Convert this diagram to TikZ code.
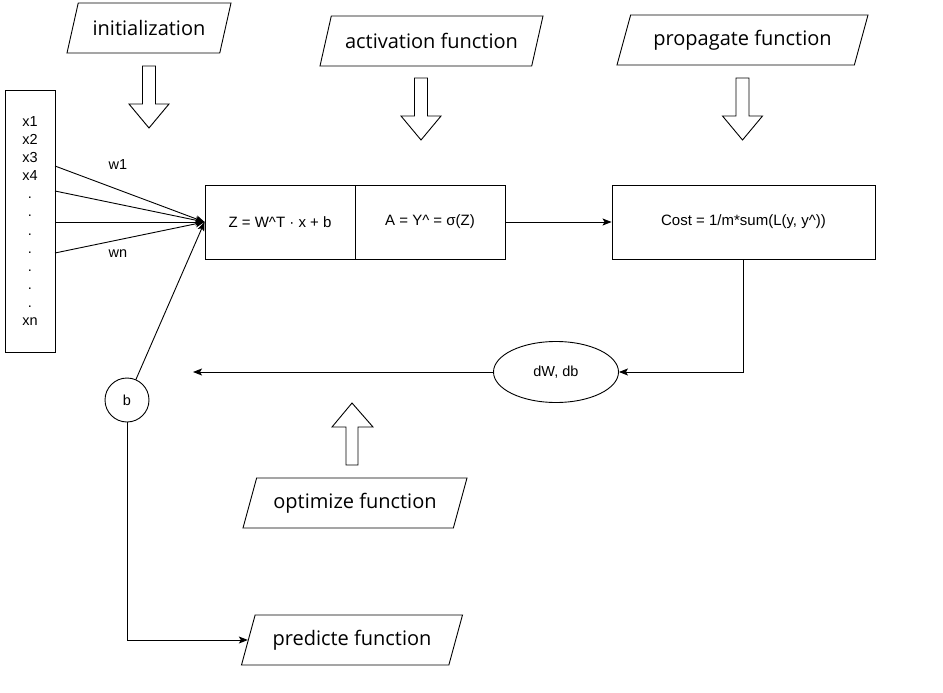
\documentclass[tikz,border=0pt]{standalone}
\usepackage{fontspec}
\setmainfont{Liberation Sans}
\newfontfamily\labelfont{Open Sans}
\usetikzlibrary{shapes.geometric,arrows.meta}

\begin{document}
\begin{tikzpicture}
    [
        x=1pt, y=-1pt,
        box/.style={rectangle, draw, line width=0.9pt, minimum height=74pt, font=\fontsize{15}{17}\selectfont},
        io/.style={trapezium, trapezium left angle=63, trapezium right angle=117, trapezium stretches body, draw, line width=0.9pt, minimum height=50pt, inner xsep=0pt, font=\labelfont\fontsize{20}{24}\selectfont},
        edge/.style={-{Stealth[length=9pt,width=7pt,inset=2pt]}, line width=0.9pt},
        hollow/.style={draw, line width=0.9pt, line join=miter},
        small/.style={font=\fontsize{14.5}{16}\selectfont},
    ]

    \useasboundingbox (0,0) rectangle (943,693);

    % functions
    \node (init) at (149,28)   [io, minimum width=164pt] {\raisebox{-1.5pt}{initialization}};
    \node (act)  at (431.5,41) [io, minimum width=223pt] {\raisebox{-1.5pt}{activation function}};
    \node (prop) at (742.5,40) [io, minimum width=251pt] {\raisebox{-1.5pt}{propagate function}};
    \node (opt)  at (355,503)  [io, minimum width=224pt] {\raisebox{-1.5pt}{optimize function}};
    \node (pred) at (352,640)  [io, minimum width=221pt] {\raisebox{-1.5pt}{predicte function}};

    % hollow arrows
    \foreach \x/\y in {149/66, 421/78, 742.5/78}
        \draw [hollow] (\x-6.5,\y) -- (\x-6.5,\y+38) -- (\x-20,\y+38) -- (\x,\y+62)
            -- (\x+20,\y+38) -- (\x+6.5,\y+38) -- (\x+6.5,\y) -- cycle;
    \draw [hollow] (346,465) -- (346,427) -- (332,427) -- (352,403)
        -- (373,427) -- (358,427) -- (358,465) -- cycle;

    % inputs
    \node (inp) at (30,221) [rectangle, draw, line width=0.9pt, minimum width=50pt, minimum height=262pt,
        align=center, font=\fontsize{14.5}{18.1}\selectfont]
        {x1\\x2\\x3\\x4\\.\\.\\.\\.\\.\\.\\.\\xn};
    \node (b) at (127,400) [circle, draw, line width=0.9pt, minimum size=44pt, inner sep=0pt, small] {b};

    % neuron
    \node (z)    at (280,222)   [box, minimum width=150pt] {Z = W\^{}T · x + b};
    \node (a)    at (430,222)   [box, minimum width=150pt] {A = Y\^{} = σ(Z)};
    \node (cost) at (743.5,222) [box, minimum width=263pt] {Cost = 1/m*sum(L(y, y\^{}))};
    \node (dw)   at (556,372)   [ellipse, draw, line width=0.9pt, minimum width=125pt, minimum height=61pt, inner sep=0pt, small] {dW, db};

    \coordinate (s1) at (55,166);
    \coordinate (s2) at (55,191);
    \coordinate (s3) at (55,222);
    \coordinate (s4) at (55,253);
    \coordinate (back) at (193,372);

    \node (w1) at (118,165) [small] {w1};
    \node (wn) at (118,254) [small] {wn};

    \draw [edge] (s1) -- (z.west);
    \draw [edge] (s2) -- (z.west);
    \draw [edge] (s3) -- (z.west);
    \draw [edge] (s4) -- (z.west);
    \draw [edge] (b) -- (z.west);
    \draw [edge] (a) -- (cost);
    \draw [edge] (cost.south) |- (dw.east);
    \draw [edge] (dw) -- (back);
    \draw [edge] (b.south) |- (pred.west);

\end{tikzpicture}
\end{document}
